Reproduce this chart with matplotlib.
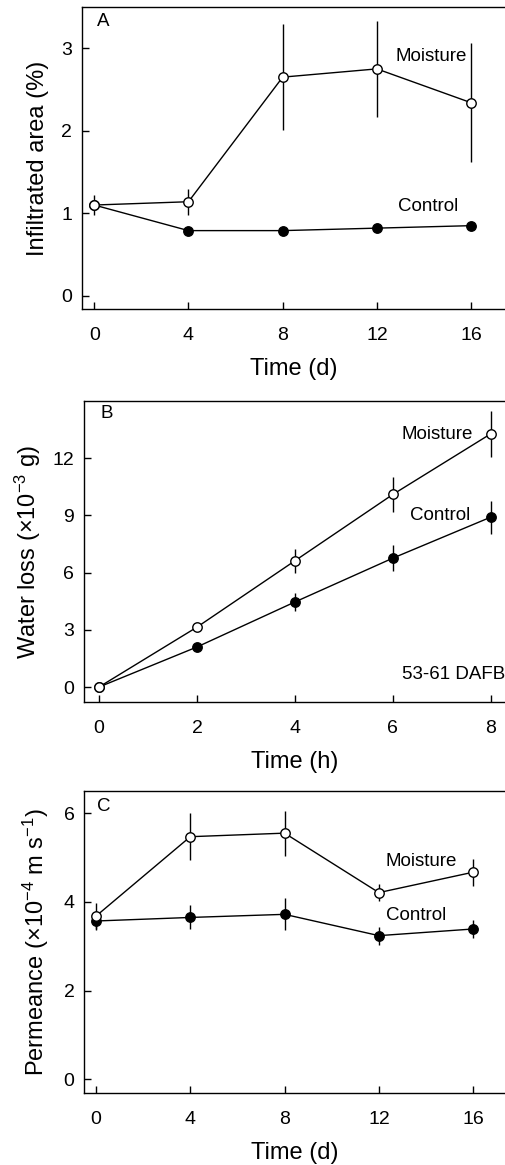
import matplotlib
matplotlib.use("Agg")
import matplotlib.pyplot as plt

plt.rcParams['font.family'] = ['Liberation Sans', 'DejaVu Sans']
plt.rcParams['mathtext.fontset'] = 'custom'
plt.rcParams['mathtext.rm'] = 'Liberation Sans'
plt.rcParams['mathtext.it'] = 'Liberation Sans'

# Panel A data
days = [0, 4, 8, 12, 16]
a_moist = [1.10, 1.14, 2.65, 2.75, 2.34]
a_moist_err = [0.12, 0.16, 0.64, 0.58, 0.72]
a_ctrl = [1.10, 0.79, 0.79, 0.82, 0.85]
a_ctrl_err = [0.06, 0.03, 0.03, 0.03, 0.03]

# Panel B data
hours = [0, 2, 4, 6, 8]
b_moist = [0.0, 3.14, 6.62, 10.1, 13.28]
b_moist_err = [0.05, 0.2, 0.63, 0.9, 1.2]
b_ctrl = [0.0, 2.10, 4.46, 6.76, 8.91]
b_ctrl_err = [0.05, 0.15, 0.45, 0.7, 0.87]

# Panel C data
c_moist = [3.68, 5.47, 5.55, 4.21, 4.67]
c_moist_err = [0.30, 0.53, 0.51, 0.20, 0.30]
c_ctrl = [3.57, 3.65, 3.72, 3.24, 3.39]
c_ctrl_err = [0.20, 0.27, 0.36, 0.20, 0.20]

W, H = 505, 1165
fig = plt.figure(figsize=(W / 100, H / 100), dpi=100)

TICK_FS = 14
LABEL_FS = 17
NOTE_FS = 13.5

def make_ax(left_px, top_px, bottom_px):
    return fig.add_axes([left_px / W, 1 - bottom_px / H, 1 - left_px / W, (bottom_px - top_px) / H])

def style(ax):
    ax.spines['right'].set_visible(False)
    for s in ['left', 'top', 'bottom']:
        ax.spines[s].set_linewidth(1.0)
    ax.tick_params(direction='in', length=5, width=1, labelsize=TICK_FS)
    ax.tick_params(axis='x', pad=13)
    ax.tick_params(axis='y', pad=7)

def plot_series(ax, x, y, e, filled):
    ax.errorbar(x, y, yerr=e, color='black', lw=1.0, elinewidth=1.0, capsize=0,
                marker='o', markersize=6.8, markeredgewidth=1.0,
                markerfacecolor='black' if filled else 'white',
                markeredgecolor='black', zorder=3 if filled else 4)

# Panel A
axA = make_ax(82, 7, 309)
style(axA)
plot_series(axA, days, a_ctrl, a_ctrl_err, True)
plot_series(axA, days, a_moist, a_moist_err, False)
axA.set_xlim(-0.52, 17.44)
axA.set_ylim(-0.16, 3.5)
axA.set_xticks(days)
axA.set_yticks([0, 1, 2, 3])
axA.set_xlabel('Time (d)', fontsize=LABEL_FS, labelpad=10)
axA.set_ylabel('Infiltrated area (%)', fontsize=LABEL_FS, labelpad=9)
axA.text(14.3, 2.9, 'Moisture', fontsize=NOTE_FS, ha='center', va='center')
axA.text(14.19, 1.08, 'Control', fontsize=NOTE_FS, ha='center', va='center')
axA.text(0.38, 3.32, 'A', fontsize=NOTE_FS, ha='center', va='center')

# Panel B
axB = make_ax(84, 401, 702.3)
style(axB)
plot_series(axB, hours, b_ctrl, b_ctrl_err, True)
plot_series(axB, hours, b_moist, b_moist_err, False)
axB.set_xlim(-0.306, 8.29)
axB.set_ylim(-0.8, 15)
axB.set_xticks(hours)
axB.set_yticks([0, 3, 6, 9, 12])
axB.set_xlabel('Time (h)', fontsize=LABEL_FS, labelpad=10)
axB.set_ylabel(r'Water loss ($\times$10$^{-3}$ g)', fontsize=LABEL_FS, labelpad=7)
axB.text(7.63, 13.23, 'Moisture', fontsize=NOTE_FS, ha='right', va='center')
axB.text(7.59, 9.0, 'Control', fontsize=NOTE_FS, ha='right', va='center')
axB.text(6.18, 0.67, '53-61 DAFB', fontsize=NOTE_FS, ha='left', va='center')
axB.text(0.157, 14.35, 'B', fontsize=NOTE_FS, ha='center', va='center')

# Panel C
axC = make_ax(84.3, 791, 1092.7)
style(axC)
plot_series(axC, days, c_ctrl, c_ctrl_err, True)
plot_series(axC, days, c_moist, c_moist_err, False)
axC.set_xlim(-0.496, 17.35)
axC.set_ylim(-0.3, 6.5)
axC.set_xticks(days)
axC.set_yticks([0, 2, 4, 6])
axC.set_xlabel('Time (d)', fontsize=LABEL_FS, labelpad=10)
axC.set_ylabel(r'Permeance ($\times$10$^{-4}$ m s$^{-1}$)', fontsize=LABEL_FS, labelpad=9)
axC.text(13.8, 4.9, 'Moisture', fontsize=NOTE_FS, ha='center', va='center')
axC.text(13.57, 3.7, 'Control', fontsize=NOTE_FS, ha='center', va='center')
axC.text(0.32, 6.16, 'C', fontsize=NOTE_FS, ha='center', va='center')

fig.savefig('out.png', dpi=100)
